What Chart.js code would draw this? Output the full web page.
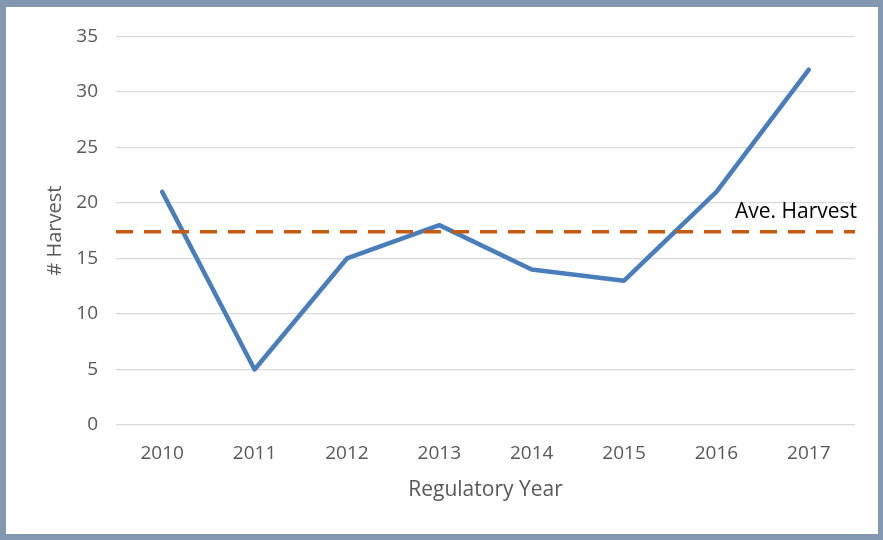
<!DOCTYPE html>
<html>
<head>
<meta charset="utf-8">
<script src="https://cdn.jsdelivr.net/npm/chart.js@4/dist/chart.umd.min.js"></script>
<style>
  html, body { margin: 0; padding: 0; background: #8497b0; }
  .frame {
    width: 883px;
    height: 540px;
    box-sizing: border-box;
    border-style: solid;
    border-color: #8497b0;
    border-width: 7px 5px 6px 6px;
    background: #fff;
  }
  canvas { display: block; }
</style>
</head>
<body>
<div class="frame">
  <canvas id="harvestChart" width="872" height="527"></canvas>
</div>
<script>
/* data */
const years = ["2010", "2011", "2012", "2013", "2014", "2015", "2016", "2017"];
const harvest = [21, 5, 15, 18, 14, 13, 21, 32];
const aveHarvest = 17.4;
const aveLabel = "Ave. Harvest";

const FONT = "'Open Sans', 'Liberation Sans', sans-serif";

/* dashed average line, drawn on the y scale */
const aveLine = {
  id: "aveLine",
  afterDatasetsDraw(chart) {
    const { ctx, chartArea, scales } = chart;
    const y = scales.y.getPixelForValue(aveHarvest);
    ctx.save();
    ctx.strokeStyle = "#c55a11";
    ctx.lineWidth = 3.5;
    ctx.setLineDash([17, 11]);
    ctx.beginPath();
    ctx.moveTo(chartArea.left, y);
    ctx.lineTo(chartArea.right, y);
    ctx.stroke();
    ctx.setLineDash([]);
    ctx.fillStyle = "#000";
    ctx.font = "21px " + FONT;
    ctx.textAlign = "right";
    ctx.textBaseline = "middle";
    ctx.fillText(aveLabel, chartArea.right + 2, y - 20);
    ctx.restore();
  },
};

new Chart(document.getElementById("harvestChart"), {
  type: "line",
  data: {
    labels: years,
    datasets: [
      {
        label: "# Harvest",
        data: harvest,
        borderColor: "#4a7ebb",
        borderWidth: 4.5,
        borderCapStyle: "round",
        borderJoinStyle: "round",
        pointRadius: 0,
        tension: 0,
        fill: false,
      },
    ],
  },
  options: {
    responsive: false,
    animation: false,
    devicePixelRatio: 1,
    layout: { padding: { left: 0, right: 23, top: 29, bottom: 0 } },
    plugins: {
      legend: { display: false },
      tooltip: { enabled: false },
    },
    scales: {
      x: {
        offset: true,
        grid: { display: false, drawTicks: false },
        border: { display: false },
        ticks: {
          color: "#595959",
          font: { family: FONT, size: 19 },
          padding: 17,
          maxRotation: 0,
        },
        title: {
          display: true,
          text: "Regulatory Year",
          color: "#595959",
          font: { family: FONT, size: 21 },
          padding: { top: 0, bottom: 31 },
        },
        afterFit(scale) {
          scale.height = 109;
        },
      },
      y: {
        min: 0,
        max: 35,
        grid: { color: "#d9d9d9", lineWidth: 1.3, drawTicks: false },
        border: { display: false },
        ticks: {
          stepSize: 5,
          color: "#595959",
          font: { family: FONT, size: 19 },
          padding: 18,
        },
        title: {
          display: true,
          text: "# Harvest",
          color: "#595959",
          font: { family: FONT, size: 20 },
          padding: { top: 37, bottom: 0 },
        },
        afterFit(scale) {
          scale.width = 110;
        },
      },
    },
  },
  plugins: [aveLine],
});
</script>
</body>
</html>
